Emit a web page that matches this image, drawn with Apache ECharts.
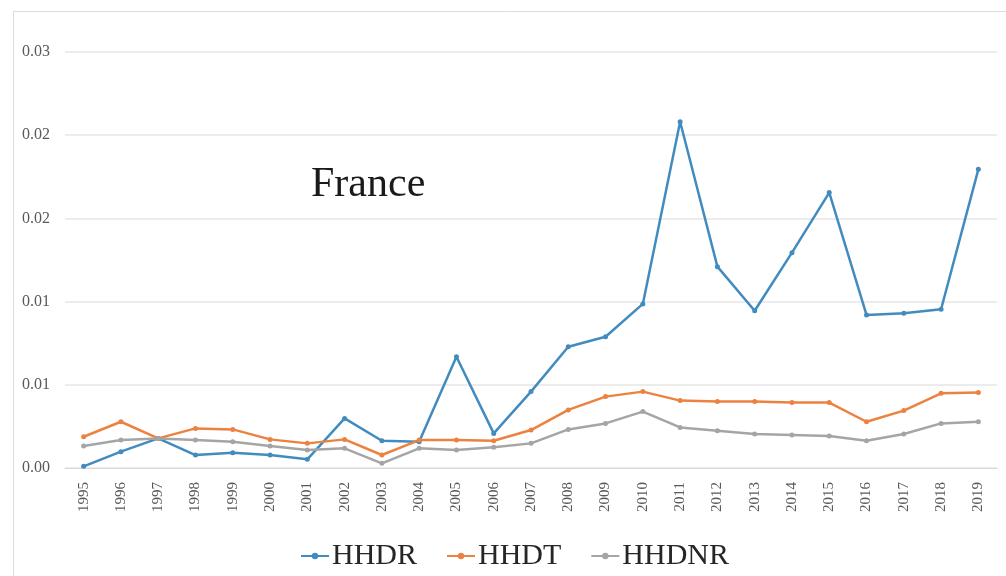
<!DOCTYPE html>
<html>
<head>
<meta charset="utf-8">
<script src="https://cdn.jsdelivr.net/npm/echarts@6/dist/echarts.min.js"></script>
<style>html,body{margin:0;padding:0;background:#fff}#c{width:1006px;height:576px}</style>
</head>
<body>
<div id="c"></div>
<script>
const years = ['1995','1996','1997','1998','1999','2000','2001','2002','2003','2004','2005','2006','2007','2008','2009','2010','2011','2012','2013','2014','2015','2016','2017','2018','2019'];
const hhdr = [0.0001,0.00098,0.00178,0.00078,0.00092,0.00078,0.00052,0.00298,0.00164,0.00158,0.00669,0.00208,0.00459,0.00729,0.00789,0.00986,0.02081,0.0121,0.00945,0.01294,0.01655,0.0092,0.0093,0.00954,0.01795];
const hhdt = [0.00188,0.00278,0.00178,0.00238,0.00232,0.00172,0.00148,0.00172,0.00078,0.00168,0.00168,0.00164,0.00228,0.00349,0.00429,0.00459,0.00405,0.00399,0.00399,0.00393,0.00393,0.00278,0.00345,0.00449,0.00453];
const hhdnr = [0.00132,0.00168,0.00178,0.00168,0.00158,0.00132,0.00108,0.00118,0.00028,0.00118,0.00108,0.00124,0.00148,0.00232,0.00268,0.00339,0.00244,0.00224,0.00204,0.00198,0.00192,0.00164,0.00204,0.00268,0.00278];
const yTickLabels = ['0.00','0.01','0.01','0.02','0.02','0.03'];
const yStep = 0.005;
const seriesNames = ['HHDR','HHDT','HHDNR'];
const colors = ['#428bbf','#ec8240','#a5a5a5'];

const chart = echarts.init(document.getElementById('c'), null, {renderer:'canvas'});
const mk = (name, data, color) => ({
  name, type:'line', data, color,
  symbol:'circle', symbolSize:5,
  lineStyle:{width:2.5, color},
  itemStyle:{color},
  emphasis:{disabled:true}
});
chart.setOption({
  animation:false,
  backgroundColor:'#fff',
  graphic:[
    {type:'rect', shape:{x:13.5,y:11.5,width:1000,height:600}, style:{fill:'none', stroke:'#dcdcdc', lineWidth:1}, silent:true},
    {type:'text', left:311, top:164, style:{text:'France', font:'42px "Liberation Serif"', fill:'#1a1a1a'}}
  ],
  grid:{left:65, right:9, top:52, bottom:108},
  legend:{
    data:seriesNames, left:295, top:536,
    itemWidth:28, itemHeight:8, itemGap:29,
    textStyle:{fontFamily:'Liberation Serif', fontSize:30, color:'#262626', padding:[0,0,0,-2]}
  },
  xAxis:{
    type:'category', data:years, boundaryGap:true,
    axisLine:{show:true, lineStyle:{color:'#d9d9d9', width:1}},
    axisTick:{show:false},
    axisLabel:{rotate:90, interval:0, margin:14, fontFamily:'Liberation Serif', fontSize:15, color:'#595959'}
  },
  yAxis:{
    type:'value', min:0, max:0.025, interval:yStep,
    axisLine:{show:false}, axisTick:{show:false},
    splitLine:{lineStyle:{color:'#e6e6e6', width:1.5}},
    axisLabel:{margin:15, fontFamily:'Liberation Serif', fontSize:16, color:'#595959',
      formatter:(v)=>yTickLabels[Math.round(v/yStep)]}
  },
  series:[mk('HHDR',hhdr,colors[0]), mk('HHDT',hhdt,colors[1]), mk('HHDNR',hhdnr,colors[2])]
});
</script>
</body>
</html>
